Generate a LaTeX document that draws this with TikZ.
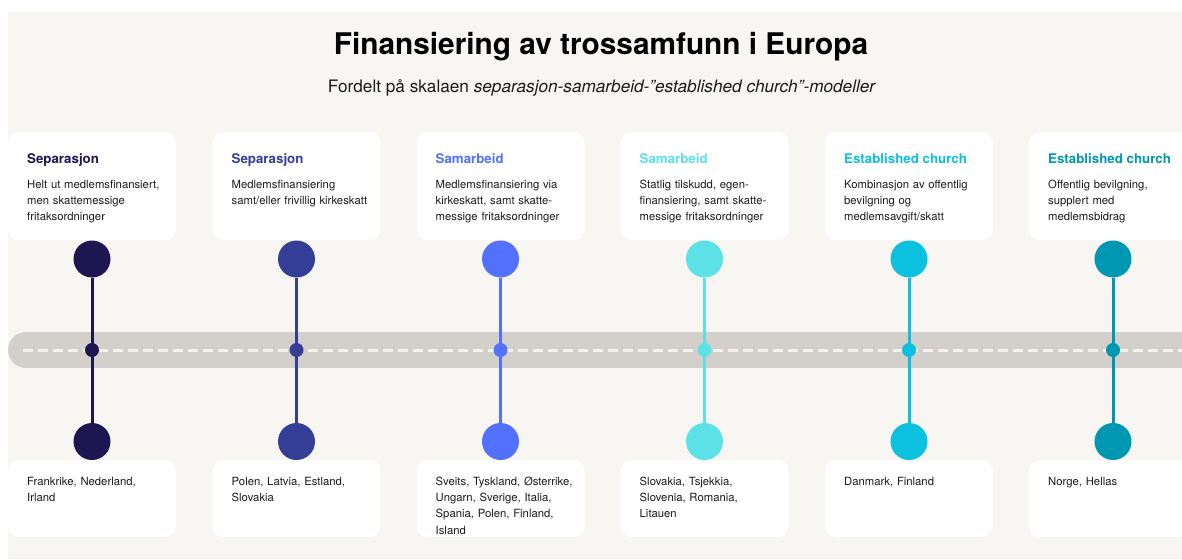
\documentclass[tikz,border=0pt]{standalone}
\usepackage{fontspec}
\setmainfont{TeX Gyre Heros}
\definecolor{cA}{HTML}{1E1650}
\definecolor{cB}{HTML}{353E96}
\definecolor{cC}{HTML}{5271FF}
\definecolor{cD}{HTML}{5CE1E6}
\definecolor{cE}{HTML}{0CC0DF}
\definecolor{cF}{HTML}{0097B2}
\definecolor{bandc}{HTML}{D3D0CB}
\definecolor{bgc}{HTML}{F7F6F3}
\definecolor{dashc}{HTML}{F4F2EE}
\definecolor{txt}{HTML}{1A1A1A}
\begin{document}
\begin{tikzpicture}[x=1pt,y=-1pt,
  card/.style={fill=white, rounded corners=11pt, minimum width=168pt, inner sep=0pt},
  hdr/.style={anchor=base west, inner sep=0pt, font=\fontsize{13.3}{16}\selectfont\bfseries},
  body/.style={anchor=base west, inner sep=0pt, text width=150pt, align=left, text=txt,
     font=\fontsize{11.3}{16.2}\selectfont},
  bigdot/.style={circle, minimum size=37pt, inner sep=0pt},
  smalldot/.style={circle, minimum size=14pt, inner sep=0pt},
  stem/.style={line width=3pt}]
\useasboundingbox (0,0) rectangle (1182,559);
\clip (0,0) rectangle (1182,559);
\fill[bgc] (8,12) rectangle (1182,559);
% title
\node[font=\fontsize{29.8}{34}\selectfont\bfseries, text=black, anchor=base] (title) at (601,55) {Finansiering av trossamfunn i Europa};
\node[font=\fontsize{17.2}{20}\selectfont, text=txt, anchor=base] (sub) at (602,93) {Fordelt på skalaen \textit{separasjon-samarbeid-”established church”-modeller}};
% band
\coordinate (bandL) at (26,350);
\coordinate (bandR) at (1200,350);
\coordinate (dashL) at (23,350);
\coordinate (dashR) at (1190,350);
\draw[bandc, line width=36pt, line cap=round] (bandL) -- (bandR);
\draw[dashc, line width=3pt, dash pattern=on 10pt off 5pt] (dashL) -- (dashR);
% columns
\foreach \i/\x/\c/\h/\ta/\ba in {
 1/92/cA/Separasjon/{Helt ut medlemsfinansiert,\\men skattemessige\\fritaksordninger}/{Frankrike, Nederland,\\Irland},
 2/296.5/cB/Separasjon/{Medlemsfinansiering\\samt/eller frivillig kirkeskatt}/{Polen, Latvia, Estland,\\Slovakia},
 3/500.5/cC/Samarbeid/{Medlemsfinansiering via\\kirkeskatt, samt skatte-\\messige fritaksordninger}/{Sveits, Tyskland, Østerrike,\\Ungarn, Sverige, Italia,\\Spania, Polen, Finland,\\Island},
 4/704.5/cD/Samarbeid/{Statlig tilskudd, egen-\\finansiering, samt skatte-\\messige fritaksordninger}/{Slovakia, Tsjekkia,\\Slovenia, Romania,\\Litauen},
 5/909/cE/Established church/{Kombinasjon av offentlig\\bevilgning og\\medlemsavgift/skatt}/{Danmark, Finland},
 6/1113/cF/Established church/{Offentlig bevilgning,\\supplert med\\medlemsbidrag}/{Norge, Hellas}}{
  \node[card, minimum height=108pt] (top\i) at (\x,186) {};
  \node[card, minimum height=77pt] (bot\i) at (\x,498.5) {};
  \node[hdr, text=\c] (h\i) at (\x-65,163.7) {\h};
  \node[body] (t\i) at (\x-65,188) {\ta};
  \node[body] (b\i) at (\x-65,485.5) {\ba};
  \node[bigdot, fill=\c] (ct\i) at (\x,259) {};
  \node[bigdot, fill=\c] (cb\i) at (\x,441.5) {};
  \draw[stem, \c] (ct\i) -- (cb\i);
  \node[smalldot, fill=\c] (d\i) at (\x,350) {};
}
\end{tikzpicture}
\end{document}
